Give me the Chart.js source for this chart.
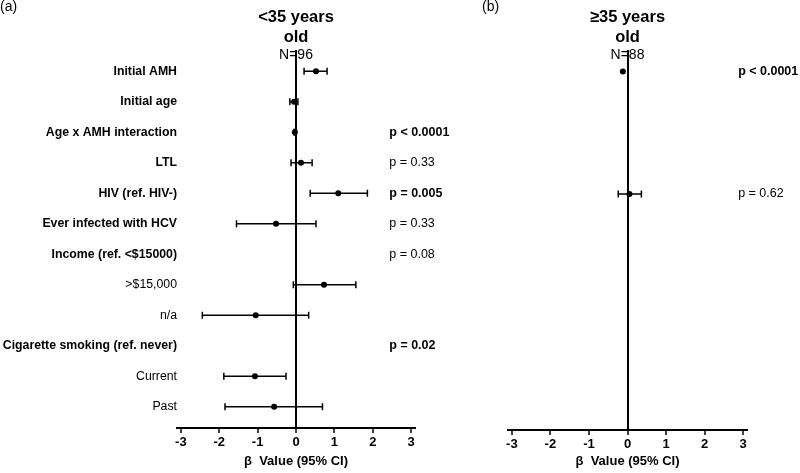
<!DOCTYPE html>
<html>
<head>
<meta charset="utf-8">
<script src="https://cdn.jsdelivr.net/npm/chart.js@4.4.0/dist/chart.umd.min.js"></script>
<style>
  body { margin: 0; background: #fff; font-family: "Liberation Sans", Arial, sans-serif; }
  #wrap { position: relative; width: 800px; height: 473px; }
  .pane { position: absolute; top: 0; }
  .tag { position: absolute; top: -2px; font-size: 14px; color: #000; }
</style>
</head>
<body>
<div id="wrap">
  <div class="pane" style="left:0"><canvas id="left" width="480" height="473"></canvas></div>
  <div class="pane" style="left:480px"><canvas id="right" width="320" height="473"></canvas></div>
  <div class="tag" style="left:0">(a)</div>
  <div class="tag" style="left:482px">(b)</div>
</div>
<script>
const FAMILY = '"Liberation Sans", Arial, sans-serif';

// rows, top to bottom
const rowLabels = ['Initial AMH', 'Initial age', 'Age x AMH interaction', 'LTL', 'HIV (ref. HIV-)',
  'Ever infected with HCV', 'Income (ref. <$15000)', '>$15,000', 'n/a',
  'Cigarette smoking (ref. never)', 'Current', 'Past'];
const rowBold = [true, true, true, true, true, true, true, false, false, true, false, false];

// <35 years old (N=96)
const youngBeta = [0.52, -0.05, -0.03, 0.13, 1.10, -0.52, null, 0.73, -1.05, null, -1.07, -0.57];
const youngLo   = [0.21, -0.16, -0.05, -0.13, 0.37, -1.55, null, -0.07, -2.44, null, -1.88, -1.85];
const youngHi   = [0.81, 0.05, -0.01, 0.42, 1.86, 0.52, null, 1.56, 0.33, null, -0.26, 0.69];
const youngP    = [null, null, 'p < 0.0001', 'p = 0.33', 'p = 0.005', 'p = 0.33', 'p = 0.08', null, null, 'p = 0.02', null, null];
const youngPBold = [false, false, true, false, true, false, false, false, false, true, false, false];

// >=35 years old (N=88)
const oldBeta = [-0.12, null, null, null, 0.05, null, null, null, null, null, null, null];
const oldLo   = [null, null, null, null, -0.24, null, null, null, null, null, null, null];
const oldHi   = [null, null, null, null, 0.36, null, null, null, null, null, null, null];
const oldP    = ['p < 0.0001', null, null, null, 'p = 0.62', null, null, null, null, null, null, null];
const oldPBold = [true, false, false, false, false, false, false, false, false, false, false, false];

const xTicks = [-3, -2, -1, 0, 1, 2, 3];

const forest = {
  id: 'forest',
  beforeDatasetsDraw(chart, args, o) {
    const { ctx, scales: { x, y } } = chart;
    ctx.save();
    ctx.strokeStyle = '#000';
    ctx.lineWidth = 1.5;
    o.lo.forEach((lo, i) => {
      const hi = o.hi[i];
      if (lo == null || hi == null) return;
      const py = y.getPixelForValue(i), x1 = x.getPixelForValue(lo), x2 = x.getPixelForValue(hi);
      ctx.beginPath();
      ctx.moveTo(x1, py); ctx.lineTo(x2, py);
      ctx.moveTo(x1, py - 3.5); ctx.lineTo(x1, py + 3.5);
      ctx.moveTo(x2, py - 3.5); ctx.lineTo(x2, py + 3.5);
      ctx.stroke();
    });
    ctx.restore();
  },
  afterDraw(chart, args, o) {
    const { ctx, scales: { x, y } } = chart;
    ctx.save();
    ctx.fillStyle = '#000';
    ctx.textBaseline = 'middle';
    ctx.textAlign = 'left';
    o.p.forEach((t, i) => {
      if (!t) return;
      ctx.font = (o.pBold[i] ? 'bold ' : '') + '12.5px ' + FAMILY;
      ctx.fillText(t, x.getPixelForValue(o.pAt), y.getPixelForValue(i));
    });
    const cx = x.getPixelForValue(0);
    ctx.textAlign = 'center';
    ctx.font = 'bold 16.5px ' + FAMILY;
    ctx.fillText(o.head[0], cx, 17);
    ctx.fillText(o.head[1], cx, 37);
    ctx.font = '14px ' + FAMILY;
    ctx.fillText(o.n, cx, 55);
    ctx.restore();
  }
};

function makeChart(id, beta, lo, hi, p, pBold, pAt, head, n, showLabels, yWidth, padRight, xHeight) {
  return new Chart(document.getElementById(id), {
    type: 'scatter',
    plugins: [forest],
    data: {
      datasets: [{
        data: beta.map((b, i) => b == null ? null : { x: b, y: i }).filter(d => d),
        pointRadius: 3,
        pointHoverRadius: 3,
        backgroundColor: '#000',
        borderWidth: 0
      }]
    },
    options: {
      responsive: false,
      animation: false,
      layout: { padding: { top: 50, right: padRight, left: 0, bottom: 0 } },
      plugins: {
        legend: { display: false },
        tooltip: { enabled: false },
        forest: { lo, hi, p, pBold, pAt, head, n }
      },
      scales: {
        x: {
          type: 'linear', min: -3.1, max: 3.1,
          afterBuildTicks: s => { s.ticks = xTicks.map(v => ({ value: v })); },
          ticks: { font: { family: FAMILY, size: 13, weight: 'bold' }, color: '#000', padding: 2, autoSkip: false, maxRotation: 0 },
          grid: {
            color: c => (c.tick && c.tick.value === 0) ? '#000' : 'rgba(0,0,0,0)',
            lineWidth: 2, tickLength: 5, tickColor: '#000', tickWidth: 1.5
          },
          border: { display: true, color: '#000', width: 2 },
          title: { display: true, text: 'β  Value (95% CI)', color: '#000',
                   font: { family: FAMILY, size: 13, weight: 'bold' }, padding: { top: 3, bottom: 4 } },
          afterFit: s => { s.height = xHeight; }
        },
        y: {
          type: 'linear', reverse: true, min: -0.7, max: 11.7,
          afterBuildTicks: s => { s.ticks = rowLabels.map((_, i) => ({ value: i })); },
          ticks: {
            display: showLabels,
            callback: v => rowLabels[v],
            font: c => ({ family: FAMILY, size: 12.3, weight: rowBold[c.index] ? 'bold' : 'normal' }),
            color: '#000', padding: 0, autoSkip: false
          },
          grid: { display: false, drawTicks: false },
          border: { display: false },
          afterFit: s => { s.width = yWidth; }
        }
      }
    }
  });
}

makeChart('left', youngBeta, youngLo, youngHi, youngP, youngPBold, 2.43,
  ['<35 years', 'old'], 'N=96', true, 177, 65, 45);
makeChart('right', oldBeta, oldLo, oldHi, oldP, oldPBold, 2.87,
  ['≥35 years', 'old'], 'N=88', false, 28, 53, 43);
</script>
</body>
</html>
